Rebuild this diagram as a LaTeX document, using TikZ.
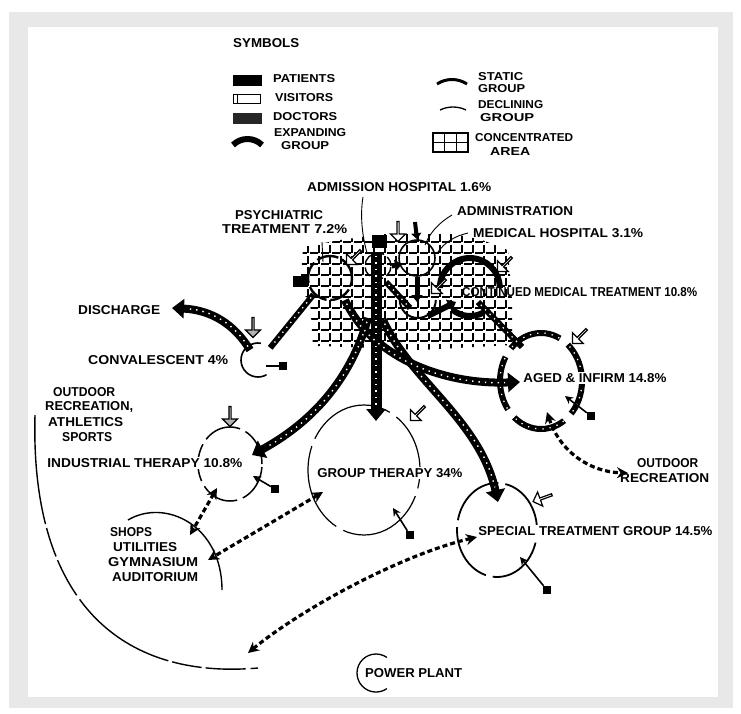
\documentclass[tikz,border=0pt]{standalone}
\usepackage{fontspec}
\setmainfont{Liberation Sans}
\usepackage{graphicx}
\usetikzlibrary{arrows.meta,shapes.arrows,shapes.geometric}
\newcommand{\tx}[2]{\resizebox{#1pt}{9pt}{\bfseries #2}}
\newcommand{\ts}[2]{\resizebox{#1pt}{8pt}{\bfseries #2}}
\begin{document}
\begin{tikzpicture}[x=1pt,y=-1pt,
 lbl/.style={inner sep=0pt, anchor=west},
 wlbl/.style={inner sep=1.2pt, anchor=west, fill=white},
 flow/.style={line width=8pt, -{Triangle[width=19pt,length=12pt]}, postaction={draw=white, line width=1.4pt, dash pattern=on 1.4pt off 5pt, arrows={-}, shorten >=15pt, shorten <=4pt}},
 band/.style={line width=6pt, postaction={draw=white, line width=1.3pt, dash pattern=on 1.3pt off 5pt, shorten >=4pt, shorten <=4pt}},
 dasharr/.style={line width=3.2pt, dash pattern=on 5pt off 3pt, {Stealth[length=11pt,width=11pt]}-{Stealth[length=11pt,width=11pt]}},
 pbox/.style={fill=black, minimum size=8pt, inner sep=0pt},
 pline/.style={line width=1.6pt, -{Stealth[length=8pt,width=8pt]}},
 vis/.style={single arrow, draw, line width=1.2pt, fill=white, minimum height=20pt, minimum width=15pt, single arrow head extend=3.5pt, inner sep=0pt},
 gvis/.style={vis, fill=black!30},
 leader/.style={line width=0.9pt},
 grp/.style={draw, ellipse, inner sep=0pt}
]
\useasboundingbox (0,0) rectangle (741,713);
\fill[white] (0,0) rectangle (741,713);
\fill[black!9] (9,12) rectangle (733,708);
\fill[white] (28,27) rectangle (718,697);

% ---------- legend ----------
\node[lbl] (sym) at (233,43) {\tx{66}{SYMBOLS}};
\node[fill=black, minimum width=29pt, minimum height=11pt, inner sep=0pt] (kpat) at (247,80) {};
\node[lbl] (tpat) at (273,79) {\ts{62}{PATIENTS}};
\node[draw, line width=1.6pt, minimum width=27pt, minimum height=9pt, inner sep=0pt] (kvis) at (247,99) {};
\draw[line width=1pt] ([xshift=5pt]kvis.north west) -- ([xshift=5pt]kvis.south west);
\node[lbl] (tvis) at (275,98) {\ts{58}{VISITORS}};
\node[fill=black!85, minimum width=29pt, minimum height=11pt, inner sep=0pt] (kdoc) at (247,118) {};
\node[lbl] (tdoc) at (273,117) {\ts{64}{DOCTORS}};
\draw[line width=6pt] (233,145) .. controls (241,137) and (254,137) .. (262,145);
\node[lbl] (texp) at (274,133) {\ts{72}{EXPANDING}};
\node[lbl] (texp2) at (281,146) {\ts{48}{GROUP}};
\draw[line width=3pt] (437,84) .. controls (446,78) and (458,78) .. (467,84);
\node[lbl] (tsta) at (478,77) {\ts{45}{STATIC}};
\node[lbl] (tsta2) at (478,89) {\ts{47}{GROUP}};
\draw[line width=1.3pt] (440,110) .. controls (448,106) and (458,106) .. (466,110);
\node[lbl] (tdec) at (478,105) {\ts{65}{DECLINING}};
\node[lbl] (tdec2) at (480,118) {\ts{54}{GROUP}};
\draw[line width=1.3pt] (433,133) rectangle (468,152) (444.7,133)--(444.7,152) (456.3,133)--(456.3,152) (433,142.5)--(468,142.5);
\node[lbl] (tcon) at (475,138) {\ts{98}{CONCENTRATED}};
\node[lbl] (tcon2) at (490,151) {\ts{40}{AREA}};

% ---------- concentrated area ----------
\begin{scope}
\clip (303,247) -- (340,240) -- (392,233) -- (445,232) -- (482,240) -- (508,250) -- (512,300) -- (512,345) -- (420,350) -- (350,347) -- (313,346) -- (310,300) -- (300,292) -- cycle;
\draw[line width=1.2pt, dash pattern=on 8pt off 3pt, step=11pt] (299,228) grid (516,352);
\end{scope}

% ---------- group circles ----------
\node[circle, draw, line width=2.4pt, minimum size=44pt, inner sep=0pt, dash pattern=on 22pt off 4pt] (psy) at (330,278) {};
\node[circle, draw, line width=1.4pt, minimum size=26pt, inner sep=0pt, dash pattern=on 10pt off 4pt] (adm) at (378,266) {};
\node[circle, draw, line width=1.6pt, minimum size=36pt, inner sep=0pt] (admin) at (417,258) {};
\node[circle, minimum size=36pt, inner sep=0pt] (medh) at (418,300) {};
\draw[line width=2pt] (medh.west) arc[start angle=180, end angle=0, radius=18];
\node[circle, minimum size=60pt, inner sep=0pt] (cmt) at (470,288) {};
\draw[line width=6pt] (cmt.west) arc[start angle=180, end angle=360, radius=30];
\draw[line width=6pt] (cmt.center) ++(60:28) arc[start angle=60, end angle=130, radius=28];
\node[circle, minimum size=34pt, inner sep=0pt] (conv) at (258,360) {};
\draw[line width=1.6pt] (conv.center) ++(-80:17) arc[start angle=-80, end angle=-300, radius=17];
\node[grp, line width=1.5pt, minimum width=64pt, minimum height=74pt, dash pattern=on 38pt off 6pt] (ind) at (230,464) {};
\node[grp, line width=1.2pt, minimum width=112pt, minimum height=130pt, dash pattern=on 90pt off 8pt, dash phase=30pt] (gt) at (364,470) {};
\node[grp, line width=1.8pt, minimum width=80pt, minimum height=94pt, dash pattern=on 60pt off 7pt] (sp) at (497,530) {};
\node[grp, line width=6pt, minimum width=82pt, minimum height=96pt, dash pattern=on 55pt off 10pt, dash phase=15pt,
  postaction={draw=white, line width=1.3pt, dash pattern=on 1.3pt off 6pt}] (aged) at (541,381) {};
\node[circle, minimum size=38pt, inner sep=0pt] (pp) at (376,673) {};
\draw[line width=1.3pt] (pp.center) ++(-55:19) arc[start angle=-55, end angle=-305, radius=19];

% outer recreation arc and shops arc
\draw[line width=1.4pt, dash pattern=on 110pt off 4pt on 30pt off 4pt on 40pt off 5pt] (35,415) .. controls (30,600) and (120,680) .. (258,668);
\draw[line width=1.4pt] (128,520) .. controls (165,498) and (222,525) .. (222,590);

% ---------- leaders ----------
\draw[leader] (363,197) .. controls (360,215) and (362,235) .. (367,253);
\draw[leader] (452,215) .. controls (440,222) and (430,232) .. (425,245);
\draw[leader] (468,233) .. controls (455,236) and (445,242) .. (438,252);
\draw[leader] (322,242) -- (323,262);

% ---------- cluster details ----------
\node[fill=black, minimum width=15pt, minimum height=13pt, inner sep=0pt] (admdoc) at (379,241) {};
\draw[line width=4pt, -{Triangle[width=10pt,length=6pt]}] (415,222) -- (admin.north);
\draw[line width=5pt, -{Triangle[width=11pt,length=7pt]}] (admin.south) -- (417,302);
\draw[line width=5pt, -{Triangle[width=11pt,length=7pt]}] (adm.east) -- (402,264);
\draw[band] (386,282) -- (410,308);
\draw[line width=6pt, -{Triangle[width=13pt,length=8pt]}] (428,316) -- (456,302);
\node[fill=black, minimum width=15pt, minimum height=11pt, inner sep=0pt] (psyp) at (300,281) {};
\draw[line width=2.4pt] (psyp) -- (psy.west);

% ---------- main flows ----------
\coordinate (gtin) at (376,421);
\draw[flow, line width=11pt] (376,252) -- (gtin);
\coordinate (indin) at (252,455);
\draw[flow] (368,318) .. controls (355,365) and (325,415) .. (indin);
\coordinate (spin) at (498,502);
\draw[flow] (383,320) .. controls (410,380) and (480,420) .. (spin);
\coordinate (agedin) at (520,382);
\draw[flow] (345,300) .. controls (370,355) and (440,385) .. (agedin);
\draw[band] (478,302) -- (522,347);
\draw[band] (psy.south west) -- (conv.north east);
\coordinate (disc) at (172,308);
\draw[flow] (250,350) .. controls (235,325) and (212,310) .. (disc);

% ---------- visitors ----------
\node[gvis, rotate=-90] (v1) at (230,416) {};
\node[gvis, rotate=-90] (v2) at (253,327) {};
\node[vis, rotate=-135] (v3) at (418,413) {};
\node[vis, rotate=-160] (v4) at (543,498) {};
\node[vis, rotate=-135] (v5) at (580,336) {};
\node[vis, rotate=-135] (v6) at (505,264) {};
\node[vis, rotate=-135] (v7) at (354,257) {};
\node[vis, rotate=-90] (v8) at (398,231) {};
\node[vis, rotate=-135] (v9) at (439,286) {};

% ---------- patients ----------
\node[pbox] (p1) at (275,489) {};
\draw[pline] (p1) -- (253,476);
\node[pbox] (p2) at (283,366) {};
\draw[line width=1.6pt] (p2) -- (266,366);
\node[pbox] (p3) at (410,535) {};
\draw[pline] (p3) -- (393,508);
\node[pbox] (p4) at (547,590) {};
\draw[pline] (p4) -- (520,557);
\node[pbox] (p5) at (591,416) {};
\draw[pline] (p5) -- (565,396);

% ---------- dashed movements ----------
\coordinate (shA) at (190,535);
\coordinate (shB) at (208,560);
\coordinate (botA) at (248,653);
\coordinate (outR) at (628,473);
\draw[dasharr] (217,488) -- (shA);
\draw[dasharr] (323,492) -- (shB);
\draw[dasharr] (477,537) .. controls (400,555) and (300,610) .. (botA);
\draw[dasharr] (547,412) .. controls (560,452) and (590,472) .. (outR);

% ---------- labels ----------
\node[lbl] (t_adm) at (307,187) {\tx{184}{ADMISSION HOSPITAL 1.6\%}};
\node[lbl] (t_psy1) at (235,215) {\tx{88}{PSYCHIATRIC}};
\node[lbl] (t_psy2) at (222,229) {\tx{125}{TREATMENT 7.2\%}};
\node[lbl] (t_admin) at (457,211) {\tx{116}{ADMINISTRATION}};
\node[lbl] (t_medh) at (473,233) {\tx{170}{MEDICAL HOSPITAL 3.1\%}};
\node[lbl] (t_cmt) at (462,292) {\tx{235}{CONTINUED MEDICAL TREATMENT 10.8\%}};
\node[lbl] (t_dis) at (78,310) {\tx{82}{DISCHARGE}};
\node[lbl] (t_conv) at (88,360) {\tx{140}{CONVALESCENT 4\%}};
\node[lbl] (t_or1) at (53,392) {\tx{62}{OUTDOOR}};
\node[lbl] (t_or2) at (45,407) {\tx{88}{RECREATION,}};
\node[lbl] (t_or3) at (48,422) {\tx{75}{ATHLETICS}};
\node[lbl] (t_or4) at (62,437) {\tx{50}{SPORTS}};
\node[wlbl] (t_ind) at (46,463) {\tx{195}{INDUSTRIAL THERAPY 10.8\%}};
\node[wlbl] (t_gt) at (316,473) {\tx{145}{GROUP THERAPY 34\%}};
\node[lbl] (t_sh1) at (110,532) {\tx{42}{SHOPS}};
\node[lbl] (t_sh2) at (113,547) {\tx{64}{UTILITIES}};
\node[lbl] (t_sh3) at (108,562) {\tx{90}{GYMNASIUM}};
\node[lbl] (t_sh4) at (112,577) {\tx{86}{AUDITORIUM}};
\node[wlbl] (t_sp) at (477,531) {\tx{234}{SPECIAL TREATMENT GROUP 14.5\%}};
\node[wlbl] (t_aged) at (522,378) {\tx{143}{AGED \& INFIRM 14.8\%}};
\node[lbl] (t_out1) at (637,463) {\tx{61}{OUTDOOR}};
\node[lbl] (t_out2) at (620,478) {\tx{89}{RECREATION}};
\node[lbl] (t_pp) at (365,673) {\tx{97}{POWER PLANT}};
\end{tikzpicture}
\end{document}
